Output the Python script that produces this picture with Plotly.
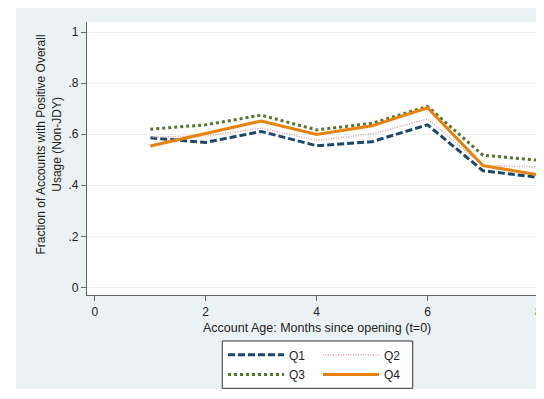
import plotly.graph_objects as go

months = [1, 2, 3, 4, 5, 6, 7, 8]
q1 = [0.586, 0.568, 0.611, 0.555, 0.571, 0.637, 0.457, 0.431]
q2 = [0.588, 0.594, 0.624, 0.576, 0.601, 0.660, 0.478, 0.472]
q3 = [0.620, 0.637, 0.675, 0.617, 0.643, 0.709, 0.518, 0.498]
q4 = [0.554, 0.604, 0.652, 0.599, 0.633, 0.704, 0.477, 0.441]

y_ticks = [0, 0.2, 0.4, 0.6, 0.8, 1]
y_labels = ["0", ".2", ".4", ".6", ".8", "1"]
x_ticks = [0, 2, 4, 6, 8]

fig = go.Figure()
fig.add_trace(go.Scatter(x=months, y=q1, name="Q1", mode="lines", legend="legend",
                         line=dict(color="#1a476f", width=3, dash="7px,3px")))
fig.add_trace(go.Scatter(x=months, y=q2, name="Q2", mode="lines", legend="legend",
                         line=dict(color="#d8a0a8", width=1.5, dash="1px,1.5px")))
fig.add_trace(go.Scatter(x=months, y=q3, name="Q3", mode="lines", legend="legend2",
                         line=dict(color="#55752f", width=3, dash="3px,3px")))
fig.add_trace(go.Scatter(x=months, y=q4, name="Q4", mode="lines", legend="legend2",
                         line=dict(color="#e8820c", width=3)))

# white strip left of the grey graph region
fig.add_shape(type="rect", xref="paper", yref="paper", x0=-0.2, x1=-0.1554,
              y0=-0.5, y1=1.1, fillcolor="white", line_width=0, layer="above")
# legend box
fig.add_shape(type="rect", xref="paper", yref="paper", x0=0.296, x1=0.7127,
              y0=-0.3418, y1=-0.1685, fillcolor="white",
              line=dict(color="#333", width=1), layer="below")

fig.add_annotation(x=4, xref="x", y=-0.122, yref="paper", yanchor="middle",
                   text="Account Age: Months since opening (t=0)", showarrow=False,
                   font=dict(size=12.5, color="#222"))
fig.add_annotation(x=-0.0822, xref="paper", y=0.553, yref="paper",
                   xanchor="center", yanchor="middle", textangle=-90,
                   text="Fraction of Accounts with Positive Overall<br>Usage (Non-JDY)",
                   showarrow=False, font=dict(size=12, color="#222"))

fig.update_xaxes(range=[-0.141, 8.101], tickvals=x_ticks, showgrid=False, zeroline=False,
                 showline=True, linecolor="#666", linewidth=1.2,
                 ticks="outside", ticklen=5, tickcolor="#666", automargin=False,
                 tickfont=dict(size=12, color="#222"))
fig.update_yaxes(range=[-0.030, 1.040], tickvals=y_ticks, ticktext=y_labels,
                 showgrid=True, gridcolor="#e8f0f2", zeroline=False,
                 showline=True, linecolor="#666", linewidth=1.2,
                 ticks="outside", ticklen=5, tickcolor="#666", automargin=False,
                 tickfont=dict(size=12, color="#222"))

legend_style = dict(orientation="h", xanchor="left", yanchor="top",
                    bgcolor="rgba(0,0,0,0)", borderwidth=0,
                    itemwidth=56, entrywidth=24,
                    font=dict(size=12, color="#222"))
fig.update_layout(
    width=536, height=381,
    margin=dict(l=79, r=0, t=14, b=94, autoexpand=False),
    paper_bgcolor="#eaf2f3", plot_bgcolor="white",
    font=dict(family="Liberation Sans, Arial, sans-serif"),
    legend=dict(x=0.2976, y=-0.166, **legend_style),
    legend2=dict(x=0.2976, y=-0.238, **legend_style),
)

fig.write_html("out.html")
